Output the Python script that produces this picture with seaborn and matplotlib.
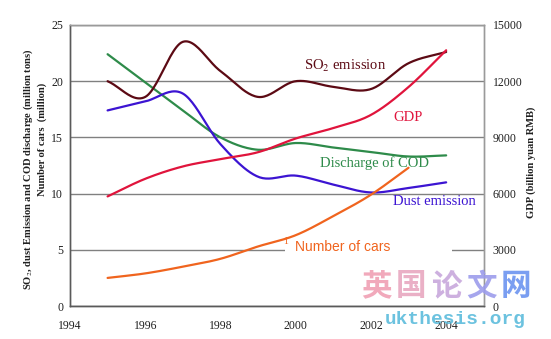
import numpy as np
import pandas as pd
import matplotlib
matplotlib.use("Agg")
import matplotlib.pyplot as plt
from matplotlib.patches import Rectangle
import seaborn as sns

# Annual data, 1995-2004
years = [1995, 1996, 1997, 1998, 1999, 2000, 2001, 2002, 2003, 2004]
so2 = [20.0, 18.6, 23.5, 20.9, 18.6, 20.0, 19.5, 19.3, 21.6, 22.6]
cod = [22.4, 19.9, 17.4, 15.0, 13.9, 14.5, 14.1, 13.7, 13.3, 13.4]
dust = [17.4, 18.2, 18.9, 14.4, 11.5, 11.6, 10.8, 10.1, 10.5, 11.0]
gdp = [5850, 6790, 7450, 7840, 8210, 8940, 9500, 10200, 11690, 13650]
car_years = [1995, 1996, 1997, 1998, 1999, 2000, 2001, 2002, 2003]
cars = [2.5, 2.9, 3.5, 4.2, 5.3, 6.3, 8.0, 9.9, 12.3]

left_ticks = [0, 5, 10, 15, 20, 25]
right_ticks = [0, 3000, 6000, 9000, 12000, 15000]
x_ticks = [1994, 1996, 1998, 2000, 2002, 2004]

C_SO2 = "#5c0a14"
C_GDP = "#e0143c"
C_COD = "#2e8b4a"
C_DUST = "#3c14d2"
C_CAR = "#f0641e"


def smooth(x, y, n=24):
    """Catmull-Rom curve through the points (spreadsheet-style smoothed line)."""
    x = np.asarray(x, float)
    y = np.asarray(y, float)
    px = np.concatenate([[2 * x[0] - x[1]], x, [2 * x[-1] - x[-2]]])
    py = np.concatenate([[2 * y[0] - y[1]], y, [2 * y[-1] - y[-2]]])
    xs, ys = [], []
    t = np.linspace(0, 1, n, endpoint=False)
    for i in range(1, len(px) - 2):
        for arr, out in ((px, xs), (py, ys)):
            p0, p1, p2, p3 = arr[i - 1], arr[i], arr[i + 1], arr[i + 2]
            out.extend(0.5 * ((2 * p1) + (-p0 + p2) * t
                              + (2 * p0 - 5 * p1 + 4 * p2 - p3) * t ** 2
                              + (-p0 + 3 * p1 - 3 * p2 + p3) * t ** 3))
    xs.append(x[-1])
    ys.append(y[-1])
    return np.array(xs), np.array(ys)


sns.set_theme(style="white")
plt.rcParams["font.family"] = ["Liberation Serif", "DejaVu Serif"]
plt.rcParams["mathtext.fontset"] = "stix"

fig = plt.figure(figsize=(5.51, 3.39), dpi=100)
ax = fig.add_axes([0.127, 0.0973, 0.751, 0.829])
ax2 = ax.twinx()

# Left-axis series
for vals, col in ((cod, C_COD), (dust, C_DUST), (so2, C_SO2)):
    sx, sy = smooth(years, vals)
    sns.lineplot(x=sx, y=sy, ax=ax, color=col, lw=1.6, sort=False,
                 estimator=None, zorder=3)
sx, sy = smooth(car_years, cars)
sns.lineplot(x=sx, y=sy, ax=ax, color=C_CAR, lw=1.6, sort=False,
             estimator=None, zorder=3)

# GDP on the right axis
sx, sy = smooth(years, gdp)
sns.lineplot(x=sx, y=sy, ax=ax2, color=C_GDP, lw=1.6, sort=False,
             estimator=None, zorder=3)

ax.set_xlim(1994, 2005)
ax.set_ylim(0, 25)
ax2.set_ylim(0, 15000)
ax.set_xticks(x_ticks)
ax.set_yticks(left_ticks)
ax2.set_yticks(right_ticks)
ax.set_xticklabels([str(v) for v in x_ticks])
ax.set_yticklabels([str(v) for v in left_ticks])
ax2.set_yticklabels([str(v) for v in right_ticks])

ax.yaxis.grid(True, color="#808080", lw=1.0)
ax.xaxis.grid(False)
ax2.grid(False)
ax.set_axisbelow(True)

ax.tick_params(axis="x", direction="in", length=4, width=0.8, color="#606060",
               pad=10, labelsize=8.5, labelcolor="#202020")
ax.tick_params(axis="y", length=0, pad=5, labelsize=8.5, labelcolor="#202020")
ax2.tick_params(axis="y", length=0, pad=6.5, labelsize=8.5, labelcolor="#202020")

for a in (ax, ax2):
    for side, sp in a.spines.items():
        sp.set_visible(True)
        sp.set_linewidth(1.0)
        sp.set_color("#5a5a5a" if side in ("left", "bottom") else "#9a9a9a")

ax.set_ylabel("")
ax2.set_ylabel("")

# White box behind the car label
ax.add_patch(Rectangle((1999.72, 4.6), 4.43, 1.45, facecolor="white",
                       edgecolor="none", zorder=2.5))

# Series labels
ax.text(2001.3, 21.4, "SO$_2$ emission", color=C_SO2, fontsize=10.5,
        ha="center", va="center", zorder=5)
ax.text(2003.0, 16.8, "GDP", color=C_GDP, fontsize=10.5,
        ha="center", va="center", zorder=5)
ax.text(2002.1, 12.75, "Discharge of COD", color=C_COD, fontsize=10.5,
        ha="center", va="center", zorder=5)
ax.text(2003.7, 9.3, "Dust emission", color=C_DUST, fontsize=10.5,
        ha="center", va="center", zorder=5)
ax.text(2001.25, 5.25, "Number of cars", color=C_CAR, fontsize=10,
        family="Liberation Sans", ha="center", va="center", zorder=5)
ax.text(1999.74, 5.75, "1", color=C_CAR, fontsize=7,
        ha="center", va="center", zorder=5)

# Axis titles
fig.text(0.052, 0.50, "SO$_2$, dust Emission and COD discharge (million tons)",
         rotation=90, ha="center", va="center", fontsize=7.6,
         fontweight="bold", color="#202020")
fig.text(0.077, 0.59, "Number of cars  (million)", rotation=90,
         ha="center", va="center", fontsize=7.6, fontweight="bold",
         color="#202020")
fig.text(0.964, 0.52, "GDP (billion yuan RMB)", rotation=90,
         ha="center", va="center", fontsize=7.6, fontweight="bold",
         color="#202020")

# Site mark in the lower right corner
wm_chars = "英国论文网"
wm_cols = ["#f0a0b4", "#e8a8c0", "#c8a8dc", "#9c9cec", "#6c94f0"]
for i, (ch, col) in enumerate(zip(wm_chars, wm_cols)):
    fig.text(0.655 + i * 0.0635, 0.155, ch, color=col, alpha=0.9,
             fontsize=22, fontweight="bold", family="Noto Sans CJK SC",
             ha="left", va="center")
fig.text(0.698, 0.058, "ukthesis.org", color="#5cbcdc", alpha=0.9,
         fontsize=14, fontweight="bold", family="Liberation Mono",
         ha="left", va="center")

fig.savefig("out.png", dpi=100, facecolor="white")
